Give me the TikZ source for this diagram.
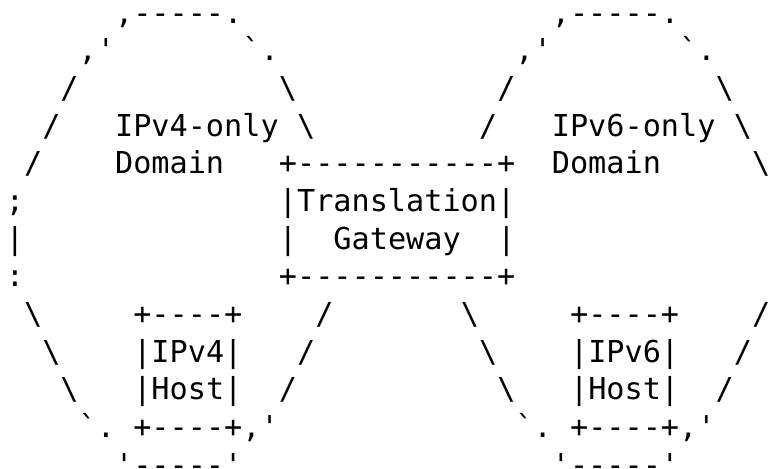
\documentclass[tikz,border=0pt]{standalone}
\usepackage{fontspec}
\newfontfamily\asciimono{DejaVu Sans Mono}[Ligatures=TeXOff]
\usetikzlibrary{positioning}

\tikzset{
  ascii/.style={font=\asciimono\fontsize{30.2pt}{37.7pt}\selectfont, anchor=base west, inner sep=0pt, outer sep=0pt}
}

\begin{document}
\begin{tikzpicture}[x=18.2pt, y=-37.7pt]

    \useasboundingbox (-0.324,-0.610) rectangle (41.93,11.83);

    % IPv4-only domain, upper part
    \node[ascii] (vfourtop) at (6,0) {,-----.};
    \node[ascii] (vfournw) at (4,1) {,'};
    \node[ascii] (vfourne) at (13,1) {`.};
    \node[ascii] (vfourwa) at (3,2) {/};
    \node[ascii] (vfourea) at (15,2) {\textbackslash};
    \node[ascii] (vfourwb) at (2,3) {/};
    \node[ascii] (vfourlabel) at (6,3) {IPv4-only};
    \node[ascii] (vfoureb) at (16,3) {\textbackslash};
    \node[ascii] (vfourwc) at (1,4) {/};
    \node[ascii] (vfourdomain) at (6,4) {Domain};

    % IPv4-only domain, left side
    \node[ascii] (vfoursemi) at (0,5) {;};
    \node[ascii] (vfourbar) at (0,6) {|};
    \node[ascii] (vfourcolon) at (0,7) {:};

    % IPv6-only domain, upper part
    \node[ascii] (vsixtop) at (30,0) {,-----.};
    \node[ascii] (vsixnw) at (28,1) {,'};
    \node[ascii] (vsixne) at (37,1) {`.};
    \node[ascii] (vsixwa) at (27,2) {/};
    \node[ascii] (vsixea) at (39,2) {\textbackslash};
    \node[ascii] (vsixwb) at (26,3) {/};
    \node[ascii] (vsixlabel) at (30,3) {IPv6-only};
    \node[ascii] (vsixeb) at (40,3) {\textbackslash};
    \node[ascii] (vsixdomain) at (30,4) {Domain};
    \node[ascii] (vsixec) at (41,4) {\textbackslash};

    % Translation gateway
    \node[ascii] (gwtop) at (15,4) {+-----------+};
    \node[ascii] (gwtext) at (15,5) {|Translation|};
    \node[ascii] (gwleft) at (15,6) {|};
    \node[ascii] (gwname) at (18,6) {Gateway};
    \node[ascii] (gwright) at (27,6) {|};
    \node[ascii] (gwbot) at (15,7) {+-----------+};

    % IPv4-only domain, lower part with host
    \node[ascii] (vfourswa) at (1,8) {\textbackslash};
    \node[ascii] (vfourhosttop) at (7,8) {+----+};
    \node[ascii] (vfoursea) at (17,8) {/};
    \node[ascii] (vfourswb) at (2,9) {\textbackslash};
    \node[ascii] (vfourhostip) at (7,9) {|IPv4|};
    \node[ascii] (vfourseb) at (16,9) {/};
    \node[ascii] (vfourswc) at (3,10) {\textbackslash};
    \node[ascii] (vfourhostname) at (7,10) {|Host|};
    \node[ascii] (vfoursec) at (15,10) {/};
    \node[ascii] (vfoursw) at (4,11) {`.};
    \node[ascii] (vfourhostbot) at (7,11) {+----+,'};
    \node[ascii] (vfourbottom) at (6,12) {'-----'};

    % IPv6-only domain, lower part with host
    \node[ascii] (vsixswa) at (25,8) {\textbackslash};
    \node[ascii] (vsixhosttop) at (31,8) {+----+};
    \node[ascii] (vsixsea) at (41,8) {/};
    \node[ascii] (vsixswb) at (26,9) {\textbackslash};
    \node[ascii] (vsixhostip) at (31,9) {|IPv6|};
    \node[ascii] (vsixseb) at (40,9) {/};
    \node[ascii] (vsixswc) at (27,10) {\textbackslash};
    \node[ascii] (vsixhostname) at (31,10) {|Host|};
    \node[ascii] (vsixsec) at (39,10) {/};
    \node[ascii] (vsixsw) at (28,11) {`.};
    \node[ascii] (vsixhostbot) at (31,11) {+----+,'};
    \node[ascii] (vsixbottom) at (30,12) {'-----'};

\end{tikzpicture}
\end{document}
